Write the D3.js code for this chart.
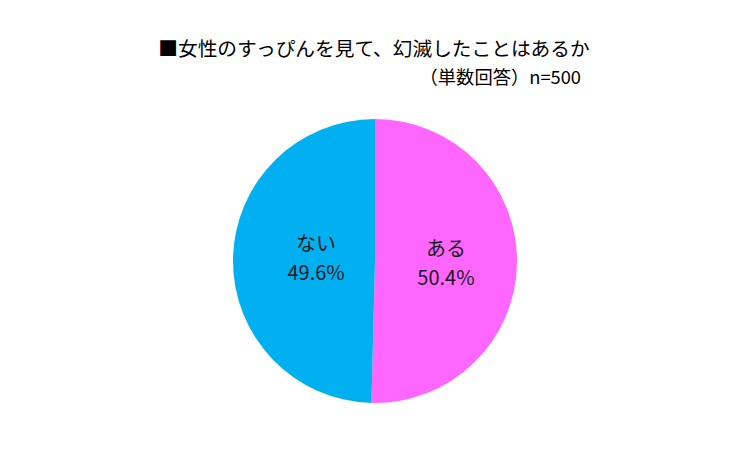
<!DOCTYPE html>
<html><head><meta charset="utf-8">
<script src="https://cdn.jsdelivr.net/npm/d3@7"></script>
<style>body{margin:0;background:#fff}</style>
</head><body>
<svg id="c" width="750" height="449"></svg>
<script>
const categories = ["ある", "ない"];
const values = [50.4, 49.6];
const colors = ["#FF66FF", "#00B0F0"];
const title = "■女性のすっぴんを見て、幻滅したことはあるか";
const subtitle = "（単数回答）n=500";

const svg = d3.select("#c");
const font = "'Noto Sans CJK JP', 'Noto Sans', sans-serif";
svg.append("rect").attr("width",750).attr("height",449).attr("fill","#fff");

svg.append("text").attr("x",374).attr("y",56).attr("text-anchor","middle")
  .attr("font-family",font).attr("font-size",19.7).attr("fill","#000").text(title);
svg.append("text").attr("x",581).attr("y",84).attr("text-anchor","end")
  .attr("font-family",font).attr("font-size",18.3).attr("fill","#000").text(subtitle);

const cx = 375, cy = 261, r = 142;
const pie = d3.pie().sort(null).value(d=>d)(values);
const arc = d3.arc().innerRadius(0).outerRadius(r);
const g = svg.append("g").attr("transform",`translate(${cx},${cy})`);
g.selectAll("path").data(pie).join("path").attr("d",arc).attr("fill",(d,i)=>colors[i]);

const labelRadius = [0.5, 0.415];
const labelDy = [0, -3];
pie.forEach((d,i)=>{
  const la = d3.arc().innerRadius(r*labelRadius[i]).outerRadius(r*labelRadius[i]);
  const [x,y] = la.centroid(d);
  const t = g.append("text").attr("text-anchor","middle").attr("font-family",font)
    .attr("font-size",20).attr("fill","#1a1a1a");
  t.append("tspan").attr("x",x).attr("y",y-6+labelDy[i]).text(categories[i]);
  t.append("tspan").attr("x",x).attr("y",y+23+labelDy[i]).text(values[i].toFixed(1)+"%");
});
</script>
</body></html>
